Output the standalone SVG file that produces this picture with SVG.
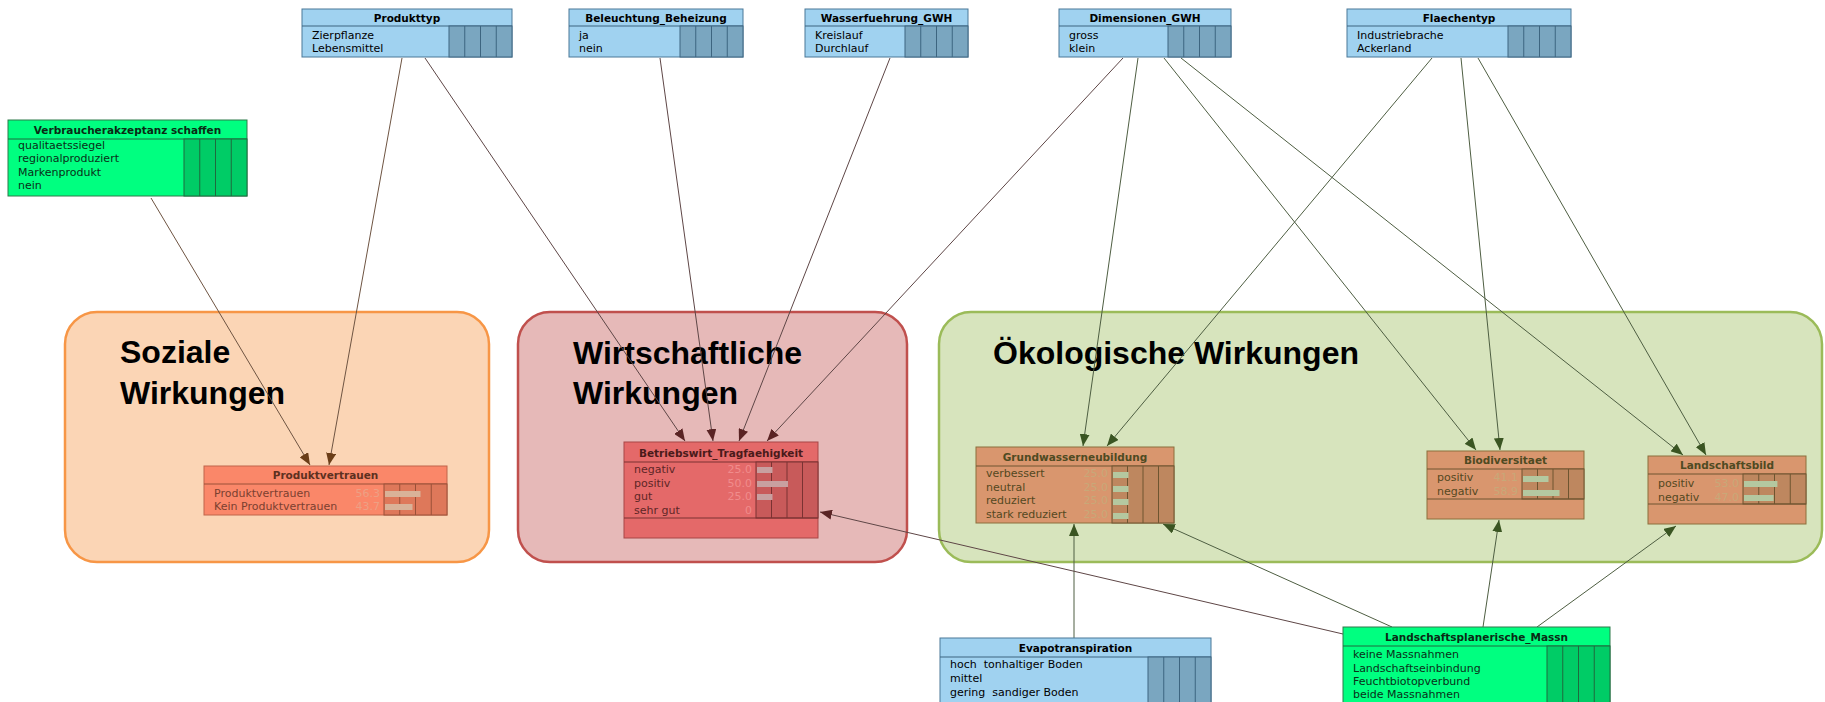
<svg xmlns="http://www.w3.org/2000/svg" width="1825" height="702" viewBox="0 0 1825 702">
<defs>
<style>
.t{font-family:"DejaVu Sans","Liberation Sans",sans-serif;font-weight:bold;font-size:10.5px;text-anchor:middle}
.r{font-family:"DejaVu Sans","Liberation Sans",sans-serif;font-size:11px;white-space:pre}
.v{font-family:"DejaVu Sans","Liberation Sans",sans-serif;font-size:11px;text-anchor:end}
.glab{font-family:"Liberation Sans",Arial,sans-serif;font-weight:bold;font-size:32px;fill:#000}
.bb{fill:#a0d2f0;stroke:#4a7898;stroke-width:1}
.bg{fill:#7aa6c0;stroke:#3d6580;stroke-width:1}
.bl{stroke:#3d6580;stroke-width:1}
.gb{fill:#00ff80;stroke:#2e7a4a;stroke-width:1}
.gg{fill:#00cc66;stroke:#1f6a3e;stroke-width:1}
.gl{stroke:#1f6a3e;stroke-width:1}
.sb{fill:#fa8769;stroke:#c0644a;stroke-width:1}
.sg{fill:#de785a;stroke:#9a5038;stroke-width:1}
.sl{stroke:#9a5038;stroke-width:1}
.wb{fill:#e46969;stroke:#a84646;stroke-width:1}
.wg{fill:#c85a5a;stroke:#7a3232;stroke-width:1}
.wl{stroke:#7a3232;stroke-width:1}
.eb{fill:#d9966e;stroke:#8c6e3c;stroke-width:1}
.eg{fill:#be875f;stroke:#6e5530;stroke-width:1}
.el{stroke:#6e5530;stroke-width:1}
.cs{stroke:#6e5442;stroke-width:1;fill:none;marker-end:url(#as)}
.cw{stroke:#5e4646;stroke-width:1;fill:none;marker-end:url(#aw)}
.ce{stroke:#4e5e42;stroke-width:1;fill:none;marker-end:url(#ae)}
</style>
<marker id="as" markerUnits="userSpaceOnUse" markerWidth="12" markerHeight="10" refX="12" refY="5" orient="auto"><path d="M0,0 L12,5 L0,10 z" fill="#6b3e18"/></marker>
<marker id="aw" markerUnits="userSpaceOnUse" markerWidth="12" markerHeight="10" refX="12" refY="5" orient="auto"><path d="M0,0 L12,5 L0,10 z" fill="#5a2424"/></marker>
<marker id="ae" markerUnits="userSpaceOnUse" markerWidth="12" markerHeight="10" refX="12" refY="5" orient="auto"><path d="M0,0 L12,5 L0,10 z" fill="#3a5522"/></marker>
</defs>
<rect width="1825" height="702" fill="#ffffff"/>

<g id="group-soziale">
<rect x="65" y="312" width="424" height="250" rx="32" fill="#fbd5b5" stroke="#f79646" stroke-width="2.5"/>
<text class="glab" x="120" y="363">Soziale</text>
<text class="glab" x="120" y="404">Wirkungen</text>
</g>
<g id="group-wirtschaftliche">
<rect x="518" y="312" width="389" height="250" rx="32" fill="#e6b9b8" stroke="#c0504d" stroke-width="2.5"/>
<text class="glab" x="573" y="364">Wirtschaftliche</text>
<text class="glab" x="573" y="404">Wirkungen</text>
</g>
<g id="group-oekologische">
<rect x="939" y="312" width="883" height="250" rx="32" fill="#d7e4bd" stroke="#9bbb59" stroke-width="2.5"/>
<text class="glab" x="993" y="364">Ökologische Wirkungen</text>
</g>

<g id="connectors">
<line class="cs" x1="151" y1="198" x2="310" y2="465"/>
<line class="cs" x1="402" y1="58" x2="329" y2="465"/>
<line class="cw" x1="425" y1="58" x2="685" y2="441"/>
<line class="cw" x1="660" y1="58" x2="713" y2="441"/>
<line class="cw" x1="890" y1="58" x2="739" y2="441"/>
<line class="cw" x1="1123" y1="58" x2="767" y2="441"/>
<line class="ce" x1="1138" y1="58" x2="1083" y2="446"/>
<line class="ce" x1="1432" y1="58" x2="1107" y2="446"/>
<line class="ce" x1="1164" y1="58" x2="1476" y2="450"/>
<line class="ce" x1="1461" y1="58" x2="1500" y2="450"/>
<line class="ce" x1="1181" y1="58" x2="1683" y2="455"/>
<line class="ce" x1="1478" y1="58" x2="1706" y2="455"/>
<line class="ce" x1="1074" y1="638" x2="1074" y2="524"/>
<line class="cw" x1="1343" y1="634" x2="820" y2="512"/>
<line class="ce" x1="1392" y1="627" x2="1163" y2="524"/>
<line class="ce" x1="1483" y1="627" x2="1499" y2="520"/>
<line class="ce" x1="1537" y1="627" x2="1676" y2="526"/>
</g>

<g id="node-produkttyp">
<rect class="bb" x="302" y="9" width="210" height="48"/>
<line class="bl" x1="302" y1="26" x2="512" y2="26"/>
<text class="t" x="407" y="22">Produkttyp</text>
<rect class="bg" x="449" y="26" width="63" height="31"/>
<line class="bl" x1="464.75" y1="26" x2="464.75" y2="57"/><line class="bl" x1="480.5" y1="26" x2="480.5" y2="57"/><line class="bl" x1="496.25" y1="26" x2="496.25" y2="57"/>
<text class="r" x="312" y="39">Zierpflanze</text>
<text class="r" x="312" y="52">Lebensmittel</text>
</g>

<g id="node-beleuchtung">
<rect class="bb" x="569" y="9" width="174" height="48"/>
<line class="bl" x1="569" y1="26" x2="743" y2="26"/>
<text class="t" x="656" y="22">Beleuchtung_Beheizung</text>
<rect class="bg" x="680" y="26" width="63" height="31"/>
<line class="bl" x1="695.75" y1="26" x2="695.75" y2="57"/><line class="bl" x1="711.5" y1="26" x2="711.5" y2="57"/><line class="bl" x1="727.25" y1="26" x2="727.25" y2="57"/>
<text class="r" x="579" y="39">ja</text>
<text class="r" x="579" y="52">nein</text>
</g>

<g id="node-wasserfuehrung">
<rect class="bb" x="805" y="9" width="163" height="48"/>
<line class="bl" x1="805" y1="26" x2="968" y2="26"/>
<text class="t" x="886.5" y="22">Wasserfuehrung_GWH</text>
<rect class="bg" x="905" y="26" width="63" height="31"/>
<line class="bl" x1="920.75" y1="26" x2="920.75" y2="57"/><line class="bl" x1="936.5" y1="26" x2="936.5" y2="57"/><line class="bl" x1="952.25" y1="26" x2="952.25" y2="57"/>
<text class="r" x="815" y="39">Kreislauf</text>
<text class="r" x="815" y="52">Durchlauf</text>
</g>

<g id="node-dimensionen">
<rect class="bb" x="1059" y="9" width="172" height="48"/>
<line class="bl" x1="1059" y1="26" x2="1231" y2="26"/>
<text class="t" x="1145" y="22">Dimensionen_GWH</text>
<rect class="bg" x="1168" y="26" width="63" height="31"/>
<line class="bl" x1="1183.75" y1="26" x2="1183.75" y2="57"/><line class="bl" x1="1199.5" y1="26" x2="1199.5" y2="57"/><line class="bl" x1="1215.25" y1="26" x2="1215.25" y2="57"/>
<text class="r" x="1069" y="39">gross</text>
<text class="r" x="1069" y="52">klein</text>
</g>

<g id="node-flaechentyp">
<rect class="bb" x="1347" y="9" width="224" height="48"/>
<line class="bl" x1="1347" y1="26" x2="1571" y2="26"/>
<text class="t" x="1459" y="22">Flaechentyp</text>
<rect class="bg" x="1508" y="26" width="63" height="31"/>
<line class="bl" x1="1523.75" y1="26" x2="1523.75" y2="57"/><line class="bl" x1="1539.5" y1="26" x2="1539.5" y2="57"/><line class="bl" x1="1555.25" y1="26" x2="1555.25" y2="57"/>
<text class="r" x="1357" y="39">Industriebrache</text>
<text class="r" x="1357" y="52">Ackerland</text>
</g>

<g id="node-verbraucherakzeptanz">
<rect class="gb" x="8" y="120" width="239" height="76"/>
<line class="gl" x1="8" y1="139" x2="247" y2="139"/>
<text class="t" x="127.5" y="134" fill="#0a2a14">Verbraucherakzeptanz schaffen</text>
<rect class="gg" x="184" y="139" width="63" height="57"/>
<line class="gl" x1="199.75" y1="139" x2="199.75" y2="196"/><line class="gl" x1="215.5" y1="139" x2="215.5" y2="196"/><line class="gl" x1="231.25" y1="139" x2="231.25" y2="196"/>
<g fill="#0a3018">
<text class="r" x="18" y="149">qualitaetssiegel</text>
<text class="r" x="18" y="162">regionalproduziert</text>
<text class="r" x="18" y="176">Markenprodukt</text>
<text class="r" x="18" y="189">nein</text>
</g>
</g>

<g id="node-produktvertrauen">
<rect class="sb" x="204" y="466" width="243" height="49"/>
<line class="sl" x1="204" y1="484" x2="447" y2="484"/>
<text class="t" x="325.5" y="479" fill="#5e3020">Produktvertrauen</text>
<rect class="sg" x="384" y="484" width="63" height="31"/>
<line class="sl" x1="399.75" y1="484" x2="399.75" y2="515"/><line class="sl" x1="415.5" y1="484" x2="415.5" y2="515"/><line class="sl" x1="431.25" y1="484" x2="431.25" y2="515"/>
<rect x="385" y="491" width="35.5" height="6" fill="#d9b298"/>
<rect x="385" y="504" width="27.5" height="6" fill="#d9b298"/>
<g fill="#7a4030">
<text class="r" x="214" y="497">Produktvertrauen</text>
<text class="r" x="214" y="510">Kein Produktvertrauen</text>
</g>
<g fill="#eda084">
<text class="v" x="380" y="497">56.3</text>
<text class="v" x="380" y="510">43.7</text>
</g>
</g>

<g id="node-betriebswirt">
<rect class="wb" x="624" y="442" width="194" height="96"/>
<line class="wl" x1="624" y1="462" x2="818" y2="462"/>
<text class="t" x="721" y="457" fill="#4a1a1a">Betriebswirt_Tragfaehigkeit</text>
<rect class="wg" x="756" y="462" width="62" height="56"/>
<line class="wl" x1="771.5" y1="462" x2="771.5" y2="518"/><line class="wl" x1="787" y1="462" x2="787" y2="518"/><line class="wl" x1="802.5" y1="462" x2="802.5" y2="518"/>
<line class="wl" x1="624" y1="518" x2="818" y2="518"/>
<rect x="757" y="467" width="15.5" height="6" fill="#c8a0a0"/>
<rect x="757" y="481" width="31" height="6" fill="#c8a0a0"/>
<rect x="757" y="494" width="15.5" height="6" fill="#c8a0a0"/>
<g fill="#5e2626">
<text class="r" x="634" y="473">negativ</text>
<text class="r" x="634" y="487">positiv</text>
<text class="r" x="634" y="500">gut</text>
<text class="r" x="634" y="514">sehr gut</text>
</g>
<g fill="#f08c8c">
<text class="v" x="752" y="473">25.0</text>
<text class="v" x="752" y="487">50.0</text>
<text class="v" x="752" y="500">25.0</text>
<text class="v" x="752" y="514">0</text>
</g>
</g>

<g id="node-grundwasserneubildung">
<rect class="eb" x="976" y="447" width="198" height="76"/>
<line class="el" x1="976" y1="466" x2="1174" y2="466"/>
<text class="t" x="1075" y="461" fill="#4e4a22">Grundwasserneubildung</text>
<rect class="eg" x="1112" y="466" width="62" height="57"/>
<line class="el" x1="1127.5" y1="466" x2="1127.5" y2="523"/><line class="el" x1="1143" y1="466" x2="1143" y2="523"/><line class="el" x1="1158.5" y1="466" x2="1158.5" y2="523"/>
<g fill="#b4c8a0">
<rect x="1113" y="472" width="15.5" height="6"/>
<rect x="1113" y="486" width="15.5" height="6"/>
<rect x="1113" y="499" width="15.5" height="6"/>
<rect x="1113" y="513" width="15.5" height="6"/>
</g>
<g fill="#54481f">
<text class="r" x="986" y="477">verbessert</text>
<text class="r" x="986" y="491">neutral</text>
<text class="r" x="986" y="504">reduziert</text>
<text class="r" x="986" y="518">stark reduziert</text>
</g>
<g fill="#c8a878">
<text class="v" x="1108" y="477">25.0</text>
<text class="v" x="1108" y="491">25.0</text>
<text class="v" x="1108" y="504">25.0</text>
<text class="v" x="1108" y="518">25.0</text>
</g>
</g>

<g id="node-biodiversitaet">
<rect class="eb" x="1427" y="451" width="157" height="68"/>
<line class="el" x1="1427" y1="469" x2="1584" y2="469"/>
<text class="t" x="1505.5" y="464" fill="#4e4a22">Biodiversitaet</text>
<rect class="eg" x="1522" y="469" width="62" height="30"/>
<line class="el" x1="1537.5" y1="469" x2="1537.5" y2="499"/><line class="el" x1="1553" y1="469" x2="1553" y2="499"/><line class="el" x1="1568.5" y1="469" x2="1568.5" y2="499"/>
<line class="el" x1="1427" y1="499" x2="1584" y2="499"/>
<g fill="#b4c8a0">
<rect x="1523" y="476" width="25.5" height="6"/>
<rect x="1523" y="490" width="36.5" height="6"/>
</g>
<g fill="#54481f">
<text class="r" x="1437" y="481">positiv</text>
<text class="r" x="1437" y="495">negativ</text>
</g>
<g fill="#c8a878">
<text class="v" x="1518" y="481">41.1</text>
<text class="v" x="1518" y="495">58.9</text>
</g>
</g>

<g id="node-landschaftsbild">
<rect class="eb" x="1648" y="456" width="158" height="68"/>
<line class="el" x1="1648" y1="474" x2="1806" y2="474"/>
<text class="t" x="1727" y="469" fill="#4e4a22">Landschaftsbild</text>
<rect class="eg" x="1743" y="474" width="63" height="30"/>
<line class="el" x1="1758.75" y1="474" x2="1758.75" y2="504"/><line class="el" x1="1774.5" y1="474" x2="1774.5" y2="504"/><line class="el" x1="1790.25" y1="474" x2="1790.25" y2="504"/>
<line class="el" x1="1648" y1="504" x2="1806" y2="504"/>
<g fill="#b4c8a0">
<rect x="1744" y="481" width="33.4" height="6"/>
<rect x="1744" y="495" width="29.6" height="6"/>
</g>
<g fill="#54481f">
<text class="r" x="1658" y="487">positiv</text>
<text class="r" x="1658" y="501">negativ</text>
</g>
<g fill="#c8a878">
<text class="v" x="1739" y="487">53.0</text>
<text class="v" x="1739" y="501">47.0</text>
</g>
</g>

<g id="node-evapotranspiration">
<rect class="bb" x="940" y="638" width="271" height="70"/>
<line class="bl" x1="940" y1="657" x2="1211" y2="657"/>
<text class="t" x="1075.5" y="652">Evapotranspiration</text>
<rect class="bg" x="1148" y="657" width="63" height="51"/>
<line class="bl" x1="1163.75" y1="657" x2="1163.75" y2="708"/><line class="bl" x1="1179.5" y1="657" x2="1179.5" y2="708"/><line class="bl" x1="1195.25" y1="657" x2="1195.25" y2="708"/>
<text class="r" x="950" y="668" xml:space="preserve">hoch  tonhaltiger Boden</text>
<text class="r" x="950" y="682">mittel</text>
<text class="r" x="950" y="696" xml:space="preserve">gering  sandiger Boden</text>
</g>

<g id="node-landschaftsplanerische">
<rect class="gb" x="1343" y="627" width="267" height="80"/>
<line class="gl" x1="1343" y1="646" x2="1610" y2="646"/>
<text class="t" x="1476.5" y="641" fill="#0a2a14">Landschaftsplanerische_Massn</text>
<rect class="gg" x="1547" y="646" width="63" height="61"/>
<line class="gl" x1="1562.75" y1="646" x2="1562.75" y2="707"/><line class="gl" x1="1578.5" y1="646" x2="1578.5" y2="707"/><line class="gl" x1="1594.25" y1="646" x2="1594.25" y2="707"/>
<g fill="#0a3018">
<text class="r" x="1353" y="658">keine Massnahmen</text>
<text class="r" x="1353" y="672">Landschaftseinbindung</text>
<text class="r" x="1353" y="685">Feuchtbiotopverbund</text>
<text class="r" x="1353" y="698">beide Massnahmen</text>
</g>
</g>
</svg>
